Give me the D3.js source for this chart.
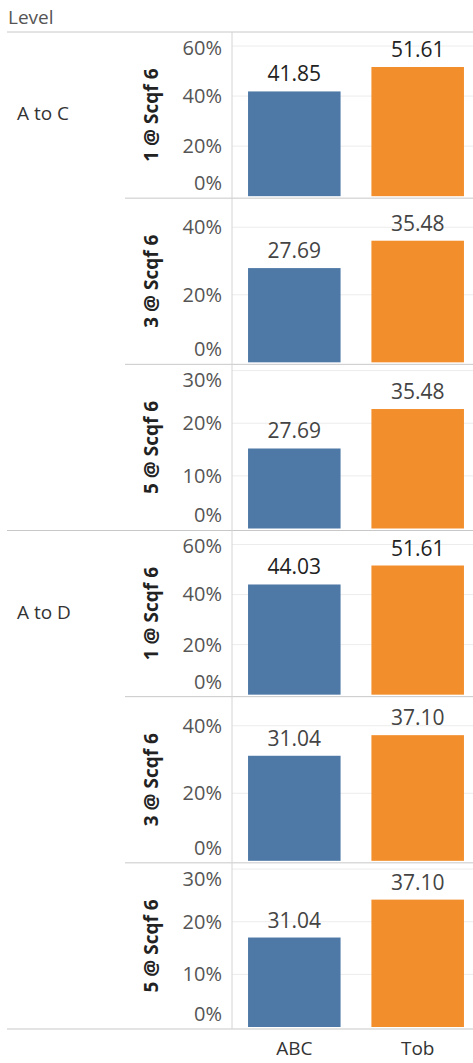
<!DOCTYPE html>
<html>
<head>
<meta charset="utf-8">
<script src="https://cdn.jsdelivr.net/npm/d3@7"></script>
<style>
  body { margin: 0; background: #fff; }
  text { font-family: "Open Sans", sans-serif; }
</style>
</head>
<body>
<div id="chart"></div>
<script>
/* Tableau style small multiples: Level x measure, ABC vs Tob */

const levels = ["A to C", "A to D"];
const measures = ["1 @ Scqf 6", "3 @ Scqf 6", "5 @ Scqf 6"];
const categories = ["ABC", "Tob"];

// bar heights (%), row by row
const abcBars = [41.85, 27.9, 15.2, 44.03, 31.1, 17.0];
const tobBars = [51.61, 36.0, 22.7, 51.61, 37.2, 24.2];

// labels shown above the bars
const abcLabels = ["41.85", "27.69", "27.69", "44.03", "31.04", "31.04"];
const tobLabels = ["51.61", "35.48", "35.48", "51.61", "37.10", "37.10"];

// axis per measure
const axisMax = [65.2, 48.3, 31];
const axisTicks = [[0, 20, 40, 60], [0, 20, 40], [0, 10, 20, 30]];

const width = 473, height = 1063;
const plotTop = 32, plotBottom = 1029, axisX = 232;

const svg = d3.select("#chart")
    .append("svg")
    .attr("width", width)
    .attr("height", height);

const rowsData = [];
levels.forEach((lv, li) => {
    measures.forEach((m, mi) => {
        const i = li * measures.length + mi;
        rowsData.push({
            level: lv, measure: m, mi: mi, i: i,
            bars: [
                { cat: categories[0], value: abcBars[i], label: abcLabels[i] },
                { cat: categories[1], value: tobBars[i], label: tobLabels[i] }
            ]
        });
    });
});

let panel = d3.scaleBand()
    .domain(rowsData.map(d => d.i))
    .range([plotTop, plotBottom]);

let x = d3.scaleBand()
    .domain(categories)
    .range([axisX, 480])
    .paddingInner(0.25)
    .paddingOuter(0.13);

let color = d3.scaleOrdinal()
    .domain(categories)
    .range(["#4e79a7", "#f28e2b"]);

// header
svg.append("text")
    .attr("x", 8)
    .attr("y", 24)
    .style("font-size", "19px")
    .style("fill", "#555")
    .text("Level");

svg.append("line")
    .attr("x1", 7).attr("x2", width)
    .attr("y1", plotTop).attr("y2", plotTop)
    .attr("stroke", "#c8c8c8");

// level labels
levels.forEach((lv, li) => {
    const y0 = panel(li * 3);
    svg.append("text")
        .attr("x", 17)
        .attr("y", y0 + panel.bandwidth() / 2)
        .attr("dominant-baseline", "middle")
        .style("font-size", "19px")
        .style("fill", "#333")
        .text(lv);
});

let row = svg.selectAll(".row")
    .data(rowsData)
    .join("g")
    .attr("class", "row")
    .attr("transform", d => `translate(0,${panel(d.i)})`);

row.each(function(d) {
    const g = d3.select(this);
    const h = panel.bandwidth();
    let y = d3.scaleLinear()
        .domain([0, axisMax[d.mi]])
        .range([h - 2, 1]);

    // grid lines
    g.selectAll(".grid")
        .data(axisTicks[d.mi].filter(t => t > 0))
        .join("line")
        .attr("x1", axisX).attr("x2", width)
        .attr("y1", t => y(t)).attr("y2", t => y(t))
        .attr("stroke", "#ececec");

    // tick labels, end ones pulled inside the panel
    g.append("g")
        .attr("transform", `translate(${axisX},0)`)
        .call(d3.axisLeft(y).tickValues(axisTicks[d.mi]).tickFormat(t => t + "%").tickSize(0).tickPadding(10))
        .call(a => a.select(".domain").remove())
        .call(a => a.selectAll("text")
            .attr("y", t => Math.min(Math.max(y(t), 16), h - 15) - y(t))
            .style("font-family", "'Open Sans', sans-serif")
            .style("font-size", "20px")
            .style("fill", "#555"));

    // measure label
    g.append("text")
        .attr("transform", `translate(153,${h / 2}) rotate(-90)`)
        .attr("text-anchor", "middle")
        .attr("dominant-baseline", "middle")
        .style("font-size", "19px")
        .style("font-weight", "bold")
        .style("fill", "#222")
        .text(d.measure);

    g.selectAll("rect")
        .data(d.bars)
        .join("rect")
        .attr("x", b => x(b.cat))
        .attr("width", x.bandwidth())
        .attr("y", b => y(b.value))
        .attr("height", b => y(0) - y(b.value))
        .attr("fill", b => color(b.cat));

    g.selectAll(".val")
        .data(d.bars)
        .join("text")
        .attr("class", "val")
        .attr("x", b => x(b.cat) + x.bandwidth() / 2)
        .attr("y", b => y(b.value) - 10)
        .attr("text-anchor", "middle")
        .style("font-size", "21px")
        .style("fill", d.mi === 0 ? "#222" : "#444")
        .text(b => b.label);

    // separator under panel
    const last = d.i === 2 || d.i === 5;
    g.append("line")
        .attr("x1", last ? 7 : 125).attr("x2", width)
        .attr("y1", h).attr("y2", h)
        .attr("stroke", "#c8c8c8");
});

// value axis line
svg.append("line")
    .attr("x1", axisX).attr("x2", axisX)
    .attr("y1", plotTop).attr("y2", plotBottom)
    .attr("stroke", "#d4d4d4");

// category labels
svg.append("g")
    .attr("transform", `translate(0,${plotBottom})`)
    .call(d3.axisBottom(x).tickSize(0).tickPadding(13))
    .call(a => a.select(".domain").remove())
    .call(a => a.selectAll("text")
        .style("font-family", "'Open Sans', sans-serif")
        .style("font-size", "19px")
        .style("fill", "#333"));
</script>
</body>
</html>
